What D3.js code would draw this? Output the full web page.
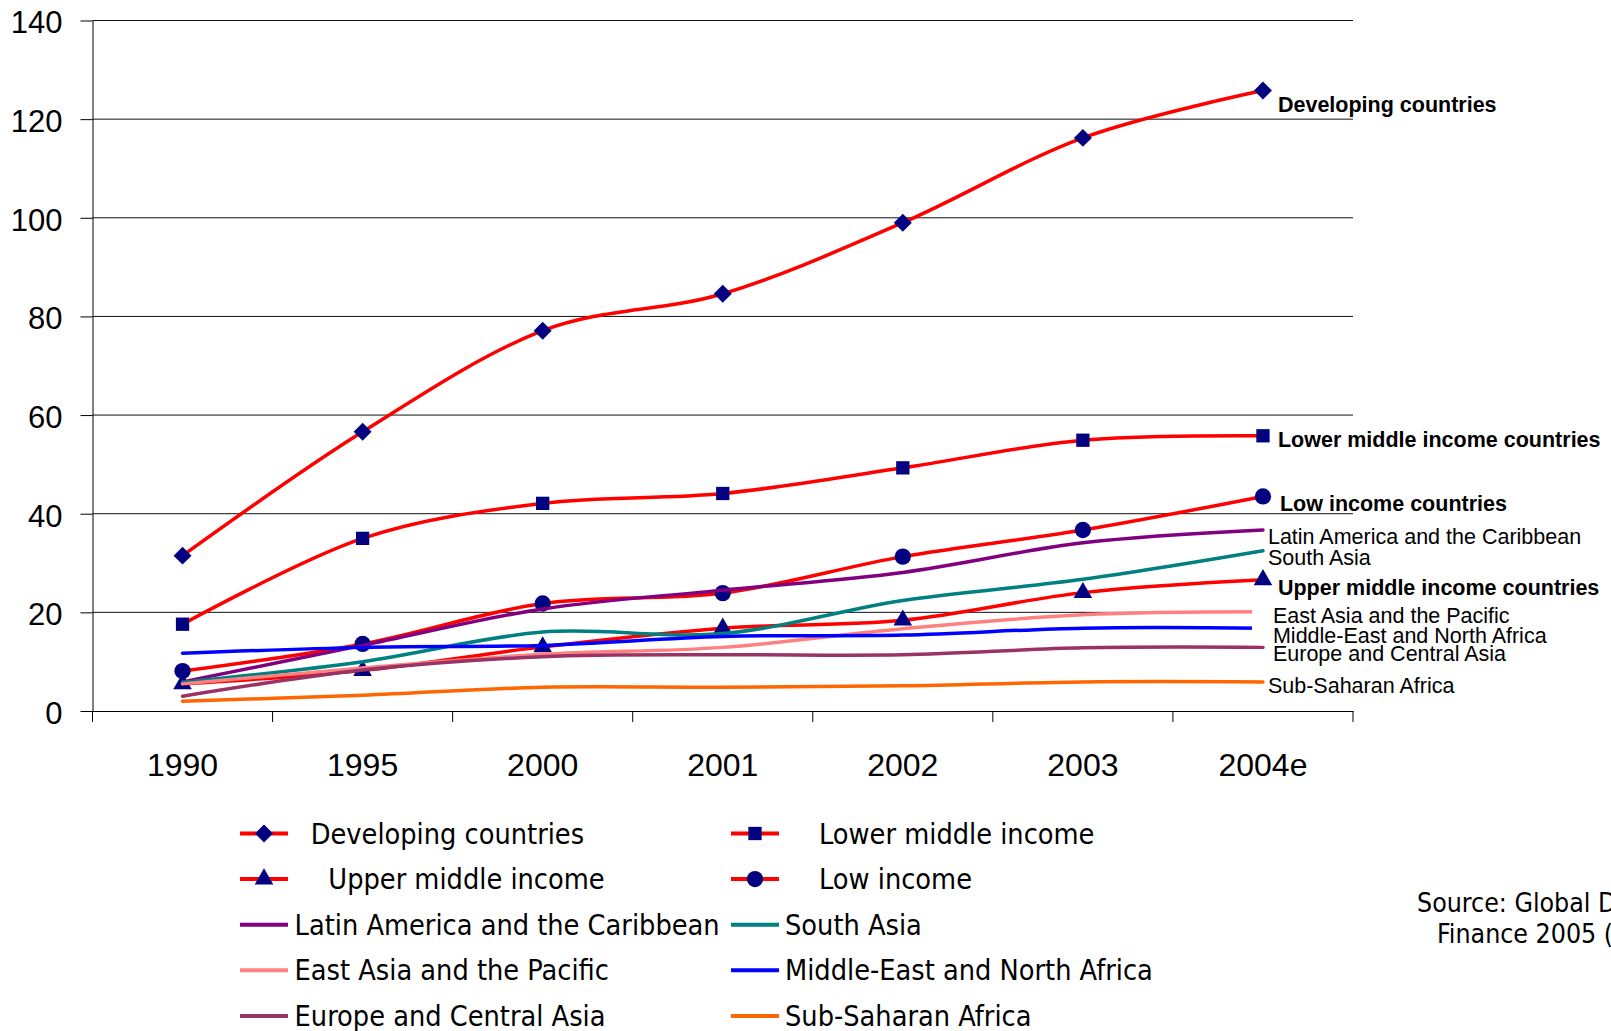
<!DOCTYPE html>
<html>
<head>
<meta charset="utf-8">
<title>Developing countries</title>
<script src="https://cdn.jsdelivr.net/npm/d3@7"></script>
<style>
  html, body { margin: 0; padding: 0; background: #fff; overflow: hidden; }
  svg { display: block; }
</style>
</head>
<body>
<div id="chart"></div>
<script>
// ----- Data -----
const years = ["1990", "1995", "2000", "2001", "2002", "2003", "2004e"];
const yTicks = [0, 20, 40, 60, 80, 100, 120, 140];

const developing   = [31.5, 56.6, 77.1, 84.6, 99.0, 116.2, 125.8];
const lowerMiddle  = [17.6, 35.0, 42.1, 44.1, 49.3, 54.9, 55.8];
const upperMiddle  = [5.5, 8.2, 13.0, 16.8, 18.4, 24.0, 26.6];
const lowIncome    = [8.1, 13.6, 21.8, 23.9, 31.3, 36.7, 43.5];
const latinAmerica = [5.9, 13.3, 20.7, 24.5, 28.1, 34.1, 36.7];
const southAsia    = [5.8, 10.0, 16.0, 15.7, 22.4, 26.7, 32.5];
const eastAsia     = [5.5, 8.7, 11.5, 12.9, 16.7, 19.5, 20.1];
const midEast      = [11.7, 12.9, 13.3, 15.1, 15.4, 16.8, 16.8];
const europe       = [3.0, 8.3, 11.0, 11.4, 11.4, 12.8, 12.9];
const subSahara    = [2.0, 3.2, 4.8, 4.8, 5.1, 5.9, 5.9];

const legendNames = [
  "Developing countries", "Lower middle income", "Upper middle income", "Low income",
  "Latin America and the Caribbean", "South Asia", "East Asia and the Pacific",
  "Middle-East and North Africa", "Europe and Central Asia", "Sub-Saharan Africa"
];
const endLabels = [
  "Developing countries", "Lower middle income countries", "Upper middle income countries",
  "Low income countries", "Latin America and the Caribbean", "South Asia",
  "East Asia and the Pacific", "Middle-East and North Africa", "Europe and Central Asia",
  "Sub-Saharan Africa"
];
const sourceLines = ["Source: Global Development", "Finance 2005 (World Bank)"];

// ----- Styling -----
const NAVY = "#000080";
const series = [
  { values: developing,   color: "#ff0000", marker: "diamond" },
  { values: lowerMiddle,  color: "#ff0000", marker: "square" },
  { values: upperMiddle,  color: "#ff0000", marker: "triangle" },
  { values: lowIncome,    color: "#ff0000", marker: "circle" },
  { values: latinAmerica, color: "#800080", marker: null },
  { values: southAsia,    color: "#008080", marker: null },
  { values: eastAsia,     color: "#ff8080", marker: null },
  { values: midEast,      color: "#0000ff", marker: null },
  { values: europe,       color: "#993366", marker: null },
  { values: subSahara,    color: "#ff6600", marker: null }
].map((s, i) => ({ ...s, name: legendNames[i], label: endLabels[i] }));

// end-of-line labels: offset from the last point, bold or not
const labelStyle = [
  { dx: 15, dy: 21,   bold: true },
  { dx: 15, dy: 11,   bold: true },
  { dx: 15, dy: 15,   bold: true },
  { dx: 17, dy: 15,   bold: true },
  { dx: 5,  dy: 14,   bold: false },
  { dx: 5,  dy: 14,   bold: false },
  { dx: 10, dy: 11.5, bold: false },
  { dx: 10, dy: 15,   bold: false },
  { dx: 10, dy: 14,   bold: false },
  { dx: 5,  dy: 11.5, bold: false }
];

const W = 1611, H = 1031;
const PLOT = { left: 92.5, right: 1353, top: 20.5, bottom: 711 };
const ARIAL = "'Liberation Sans', Arial, Helvetica, sans-serif";
const LEGEND_FONT = "'DejaVu Sans Condensed', 'DejaVu Sans', sans-serif";

const svg = d3.select("#chart").append("svg")
  .attr("width", W).attr("height", H);

svg.append("rect").attr("width", W).attr("height", H).attr("fill", "#fff");

// ----- Scales -----
const x = d3.scaleBand().domain(years).range([PLOT.left, PLOT.right]).padding(0);
const cx = d => x(d) + x.bandwidth() / 2;
const y = d3.scaleLinear().domain([0, 140]).range([PLOT.bottom, PLOT.top]);

// ----- Gridlines -----
svg.append("g").selectAll("line").data(yTicks.slice(1)).join("line")
  .attr("x1", PLOT.left).attr("x2", PLOT.right)
  .attr("y1", d => y(d)).attr("y2", d => y(d))
  .attr("stroke", "#111").attr("stroke-width", 1);

// ----- Axes -----
const yAxisG = svg.append("g")
  .attr("transform", `translate(${PLOT.left},0)`)
  .call(d3.axisLeft(y).tickValues(yTicks).tickSize(12).tickPadding(18).tickSizeOuter(0));
yAxisG.select(".domain").attr("stroke", "#000");
yAxisG.selectAll(".tick line").attr("stroke", "#000");
yAxisG.selectAll("text")
  .attr("font-family", ARIAL).attr("font-size", 31).attr("fill", "#000").attr("dy", "0.4em");

const xAxisG = svg.append("g")
  .attr("transform", `translate(0,${PLOT.bottom})`)
  .call(d3.axisBottom(x).tickSize(0).tickPadding(42).tickSizeOuter(0));
xAxisG.select(".domain").attr("stroke", "#000");
xAxisG.selectAll("text")
  .attr("font-family", ARIAL).attr("font-size", 32).attr("fill", "#000");

// category boundary ticks
const bounds = years.map(d => x(d)).concat([x.range()[1]]);
xAxisG.append("g").selectAll("line").data(bounds).join("line")
  .attr("x1", d => d).attr("x2", d => d)
  .attr("y1", 0).attr("y2", 11)
  .attr("stroke", "#000");

// ----- Lines and markers -----
const line = d3.line()
  .x((d, i) => cx(years[i]))
  .y(d => y(d))
  .curve(d3.curveCardinal.tension(0));

function markerPath(type) {
  if (type === "diamond") return d3.symbol(d3.symbolSquare, 161)();
  if (type === "square") return d3.symbol(d3.symbolSquare, 177)();
  if (type === "triangle") return d3.symbol(d3.symbolTriangle, 150)();
  return d3.symbol(d3.symbolCircle, 209)();
}
function markerTransform(type, px, py) {
  return type === "diamond"
    ? `translate(${px},${py}) rotate(45)`
    : `translate(${px},${py})`;
}

const seriesG = svg.append("g");
series.forEach(s => {
  const g = seriesG.append("g");
  g.append("path")
    .attr("d", line(s.values))
    .attr("fill", "none")
    .attr("stroke", s.color)
    .attr("stroke-width", 3.5)
    .attr("stroke-linecap", "round")
    .attr("stroke-linejoin", "round");
  if (s.marker) {
    g.selectAll("path.m").data(s.values).join("path")
      .attr("class", "m")
      .attr("d", markerPath(s.marker))
      .attr("transform", (d, i) => markerTransform(s.marker, cx(years[i]), y(d)))
      .attr("fill", NAVY);
  }
});

// ----- End labels -----
const lastYear = years[years.length - 1];
// white box behind the East Asia / Middle-East labels
svg.append("rect")
  .attr("x", cx(lastYear) - 11).attr("y", y(eastAsia[6]) - 9)
  .attr("width", 270).attr("height", y(midEast[6]) - y(eastAsia[6]) + 17)
  .attr("fill", "#fff");

svg.append("g").selectAll("text").data(series).join("text")
  .attr("x", (s, i) => cx(lastYear) + labelStyle[i].dx)
  .attr("y", (s, i) => y(s.values[s.values.length - 1]) + labelStyle[i].dy)
  .attr("font-family", ARIAL)
  .attr("font-size", 21.5)
  .attr("font-weight", (s, i) => labelStyle[i].bold ? "bold" : "normal")
  .attr("fill", "#000")
  .text(s => s.label);

// ----- Legend -----
const LEG = {
  rowY: 833.5, rowStep: 45.6,
  colSym: [[240, 288], [731, 779]],
  textX: [[310.7, 819], [328.3, 819], [294.6, 785], [294.6, 785], [294.6, 785]]
};
const legend = svg.append("g");
series.forEach((s, i) => {
  const row = Math.floor(i / 2), col = i % 2;
  const ly = LEG.rowY + row * LEG.rowStep;
  const [x1, x2] = LEG.colSym[col];
  legend.append("line")
    .attr("x1", x1).attr("x2", x2).attr("y1", ly).attr("y2", ly)
    .attr("stroke", s.color).attr("stroke-width", 4);
  if (s.marker) {
    legend.append("path")
      .attr("d", markerPath(s.marker))
      .attr("transform", markerTransform(s.marker, (x1 + x2) / 2, ly))
      .attr("fill", NAVY);
  }
  legend.append("text")
    .attr("x", LEG.textX[row][col])
    .attr("y", ly + 10)
    .attr("font-family", LEGEND_FONT)
    .attr("font-size", 28.6)
    .attr("fill", "#000")
    .text(s.name);
});

// ----- Source note -----
svg.append("g").selectAll("text").data(sourceLines).join("text")
  .attr("x", (d, i) => i === 0 ? 1417 : 1437)
  .attr("y", (d, i) => 912 + i * 31)
  .attr("font-family", LEGEND_FONT)
  .attr("font-size", 26.5)
  .attr("fill", "#000")
  .text(d => d);
</script>
</body>
</html>
